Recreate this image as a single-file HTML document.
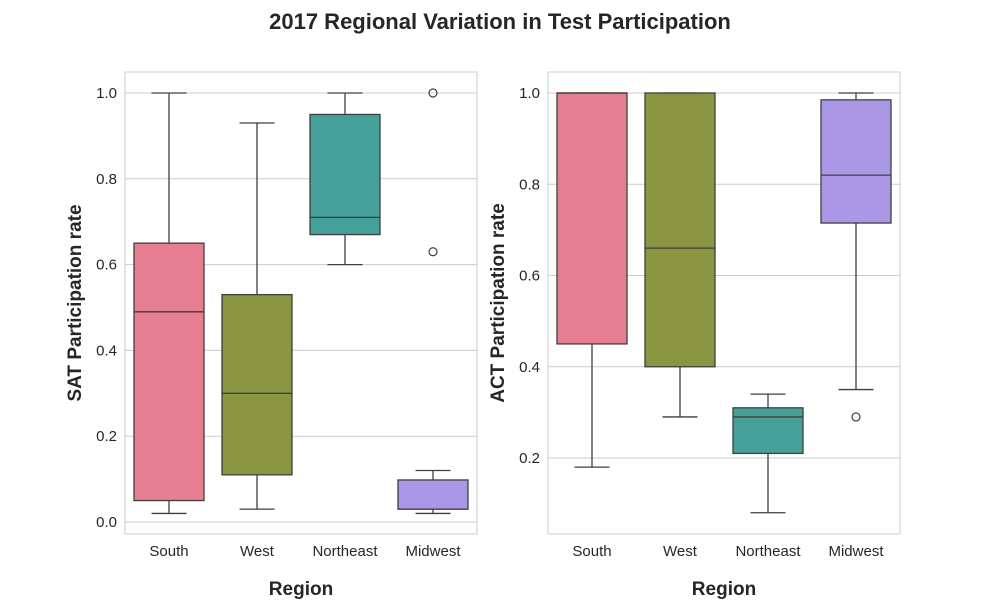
<!DOCTYPE html>
<html><head><meta charset="utf-8"><style>
body{margin:0;background:#fff;font-family:"Liberation Sans",Arial,sans-serif}
</style></head><body>
<svg id="chart" width="1000" height="600" xmlns="http://www.w3.org/2000/svg" font-family="Liberation Sans, Arial, sans-serif">
<text x="500" y="29" text-anchor="middle" font-size="22" font-weight="bold" fill="#262626">2017 Regional Variation in Test Participation</text>
</svg>
<script>
const categories = ["South","West","Northeast","Midwest"];
const colors = ["#e77f92","#8a9641","#44a098","#aa98e7"];
// [whislo, q1, median, q3, whishi]
const satStats = [[0.02,0.05,0.49,0.65,1.0],[0.03,0.11,0.30,0.53,0.93],[0.60,0.67,0.71,0.95,1.0],[0.02,0.03,0.03,0.098,0.12]];
const satOutliers = [[],[],[],[0.63,1.0]];
const actStats = [[0.18,0.45,1.0,1.0,1.0],[0.29,0.40,0.66,1.0,1.0],[0.08,0.21,0.29,0.31,0.34],[0.35,0.715,0.82,0.985,1.0]];
const actOutliers = [[],[],[],[0.29]];
const satTicks = [0.0,0.2,0.4,0.6,0.8,1.0];
const actTicks = [0.2,0.4,0.6,0.8,1.0];

const svg = document.getElementById('chart');
const NS = "http://www.w3.org/2000/svg";
function mk(tag, attrs, parent){const e=document.createElementNS(NS,tag);for(const k in attrs)e.setAttribute(k,attrs[k]);(parent||svg).appendChild(e);return e;}

function panel(name, x0, yv0, yv1, py0, py1, stats, outs, ticks, ylabel){
  const g = mk('g',{});
  
  
  const W=352, top=72, bot=534;
  const y = v => py0 + (v-yv0)/(yv1-yv0)*(py1-py0);
  const x = i => x0 + 44 + i*88;
  ticks.forEach(t=>{
    const l = mk('line',{x1:x0,x2:x0+W,y1:y(t),y2:y(t),stroke:'#cccccc','stroke-width':1},g);
    
    
    const tx = mk('text',{x:x0-8,y:y(t)+5,'text-anchor':'end','font-size':15,fill:'#262626'},g);
    tx.textContent = t.toFixed(1);
    
    
  });
  const fr = mk('rect',{x:x0,y:top,width:W,height:bot-top,fill:'none',stroke:'#cccccc','stroke-width':1},g);
  
  
  stats.forEach((s,i)=>{
    const cx=x(i), hw=35, c='#3f3f3f';
    const bg = mk('g',{},g);
    
    
    mk('line',{x1:cx,x2:cx,y1:y(s[0]),y2:y(s[1]),stroke:c,'stroke-width':1.3},bg);
    mk('line',{x1:cx,x2:cx,y1:y(s[3]),y2:y(s[4]),stroke:c,'stroke-width':1.3},bg);
    mk('line',{x1:cx-17.5,x2:cx+17.5,y1:y(s[0]),y2:y(s[0]),stroke:c,'stroke-width':1.3},bg);
    mk('line',{x1:cx-17.5,x2:cx+17.5,y1:y(s[4]),y2:y(s[4]),stroke:c,'stroke-width':1.3},bg);
    mk('rect',{x:cx-hw,y:y(s[3]),width:2*hw,height:Math.max(0.5,y(s[1])-y(s[3])),fill:colors[i],stroke:c,'stroke-width':1.3},bg);
    mk('line',{x1:cx-hw,x2:cx+hw,y1:y(s[2]),y2:y(s[2]),stroke:c,'stroke-width':1.3},bg);
    outs[i].forEach(o=>{
      const ci = mk('circle',{cx:cx,cy:y(o),r:4,fill:'none',stroke:c,'stroke-width':1.2},bg);
      
      
    });
    const lt = mk('text',{x:cx,y:556,'text-anchor':'middle','font-size':15,fill:'#262626'},g);
    lt.textContent = categories[i];
    
    
  });
  const xt = mk('text',{x:x0+W/2,y:595,'text-anchor':'middle','font-size':19,'font-weight':'bold',fill:'#262626'},g);
  xt.textContent='Region';
  
  
  const yt = mk('text',{x:0,y:0,'text-anchor':'middle','font-size':19,'font-weight':'bold',fill:'#262626',transform:`translate(${x0-44},${(top+bot)/2}) rotate(-90)`},g);
  yt.textContent=ylabel;
  
  
}
panel('sat',125,0,1,522,93,satStats,satOutliers,satTicks,'SAT Participation rate');
panel('act',548,0.2,1,458,93,actStats,actOutliers,actTicks,'ACT Participation rate');
</script>
</body></html>
